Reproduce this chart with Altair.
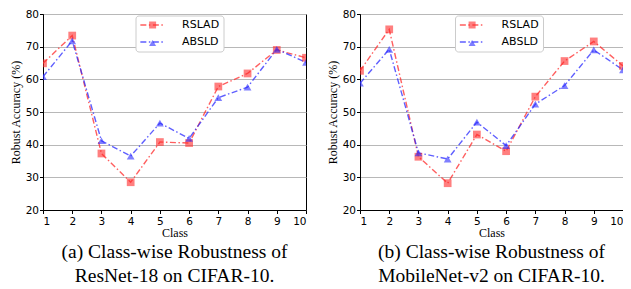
import altair as alt
import pandas as pd

classes = [1, 2, 3, 4, 5, 6, 7, 8, 9, 10]
models = ["RSLAD", "ABSLD"]
r18_rslad = [64.9, 73.4, 37.3, 28.5, 40.8, 40.5, 57.8, 61.8, 69.0, 66.6]
r18_absld = [60.8, 71.8, 41.2, 36.5, 46.6, 41.9, 54.4, 57.6, 69.2, 65.2]
mb_rslad = [62.6, 75.3, 36.3, 28.2, 43.1, 38.0, 54.7, 65.6, 71.6, 64.1]
mb_absld = [58.8, 69.2, 37.5, 35.6, 46.9, 39.7, 52.4, 58.1, 69.0, 62.9]
captions = [
    ["(a) Class-wise Robustness of", "ResNet-18 on CIFAR-10."],
    ["(b) Class-wise Robustness of", "MobileNet-v2 on CIFAR-10."],
]
y_ticks = [20, 30, 40, 50, 60, 70, 80]

RED = "#ff2a2a"
BLUE = "#2a2aff"
DASH = [6, 2.5, 1.5, 2.5]
LINE_SYMBOL = "M-3.5,0H3.5"


def frame(a, b):
    rows = []
    for c, v in zip(classes, a):
        rows.append({"Class": c, "acc": v, "model": "RSLAD"})
    for c, v in zip(classes, b):
        rows.append({"Class": c, "acc": v, "model": "ABSLD"})
    return pd.DataFrame(rows)


def panel(a, b, caption, lx, ly, w):
    df = frame(a, b)
    x = alt.X("Class:Q", scale=alt.Scale(domain=[1, 10], nice=False),
              axis=alt.Axis(values=classes, title="Class", grid=False, format="d"))
    y = alt.Y("acc:Q", scale=alt.Scale(domain=[20, 80], nice=False),
              axis=alt.Axis(values=y_ticks, title="Robust Accuracy (%)", grid=True))
    common = dict(orient="none", legendX=lx, legendY=ly, title=None, padding=4,
                  labelFont="DejaVu Sans", labelFontSize=11, rowPadding=5,
                  symbolSize=49, symbolStrokeWidth=1.4, symbolOffset=7.6,
                  labelOffset=24)
    lines = alt.Chart(df).mark_line(strokeWidth=1.4, opacity=0.75, clip=True,
                                    strokeDash=DASH).encode(
        x=x, y=y,
        stroke=alt.Stroke("model:N", sort=models, scale=alt.Scale(range=[RED, BLUE]),
                          legend=alt.Legend(symbolType=LINE_SYMBOL, symbolOpacity=0.75,
                                            symbolDash=DASH, labelColor="black",
                                            fillColor="white", strokeColor="#cccccc",
                                            cornerRadius=3, zindex=1, **common)),
        detail="model:N")
    mleg = alt.Legend(symbolOpacity=0.6, labelColor="transparent", labelExpr="' '",
                      symbolStrokeColor="transparent", zindex=2, **common)
    pts = alt.Chart(df).mark_point(filled=True, size=60, opacity=0.6, clip=True).encode(
        x=x, y=y,
        fill=alt.Fill("model:N", scale=alt.Scale(domain=models, range=[RED, BLUE]),
                      legend=mleg),
        shape=alt.Shape("model:N", scale=alt.Scale(domain=models, range=["square", "triangle-up"]),
                        legend=mleg),
    )
    return alt.layer(lines, pts).properties(
        width=w, height=196,
        title=alt.TitleParams(text=caption, orient="bottom", anchor="middle",
                              font="Liberation Serif", fontSize=19.5, fontWeight="normal",
                              lineHeight=23.5, color="black", offset=5),
    )


left = panel(r18_rslad, r18_absld, captions[0], 92.5, 1.5, 263)
right = panel(mb_rslad, mb_absld, captions[1], 95, 1.5, 263)

chart = alt.hconcat(left, right, spacing=18).resolve_scale(
    stroke="independent", fill="independent", shape="independent"
).properties(
    padding={"left": 0, "top": 0, "right": -1, "bottom": -2}
).configure_view(stroke="black", strokeWidth=1).configure_axis(
    labelFont="DejaVu Sans", labelFontSize=10.5, labelColor="black",
    titleFont="Liberation Serif", titleFontSize=12, titleFontWeight="normal",
    titleColor="black", domainColor="black", domainWidth=1, tickColor="black",
    tickSize=3.5, gridColor="#b8b8b8", gridWidth=1,
).configure_axisX(labelPadding=3, titlePadding=0).configure_axisY(
    labelPadding=1, titlePadding=3)

chart.save("out.html", embed_options={"renderer": "svg", "actions": False})
